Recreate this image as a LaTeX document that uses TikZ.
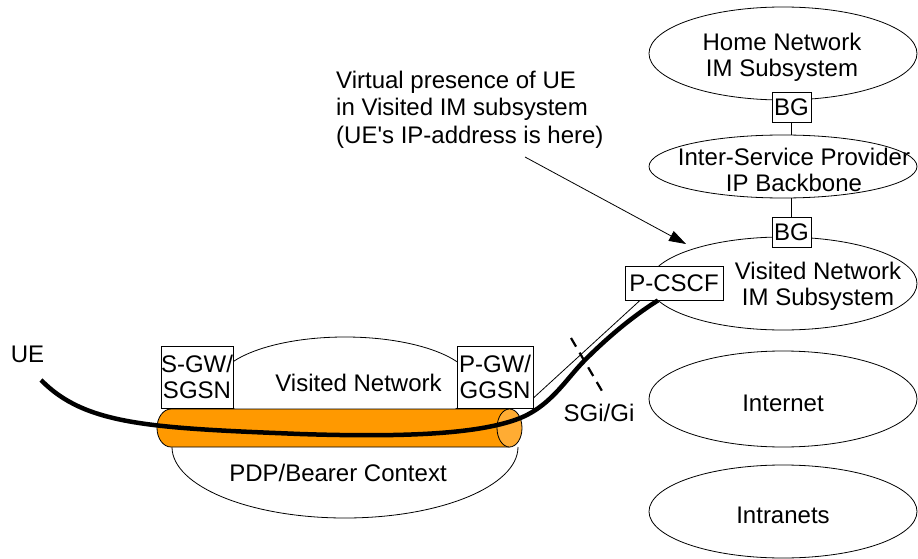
\documentclass[tikz,border=0pt]{standalone}
\usepackage{fontspec}
\setmainfont{Liberation Sans}
\usetikzlibrary{shapes.geometric,arrows.meta}

\definecolor{tubeorange}{RGB}{255,153,0}
\definecolor{tubeface}{RGB}{255,172,51}

\begin{document}
\begin{tikzpicture}[x=1pt, y=-1pt, font=\fontsize{24}{26}\selectfont,
					netoval/.style = {draw, ellipse, line width=0.8pt, inner sep=0pt, minimum width=268pt, minimum height=#1},
					gwbox/.style = {draw, fill=white, line width=0.8pt, inner sep=0pt, align=center},
					txt/.style = {inner sep=0pt, align=center},
					thinline/.style = {line width=0.8pt},
					uepath/.style = {line width=4.5pt}]
	\useasboundingbox (0,0) rectangle (918,559);

	% networks on the right
	\node[netoval=93pt] (home) at (783,53.5) {};
	\node[netoval=63pt] (isp) at (783,166.5) {};
	\node[netoval=93pt] (visim) at (783,283.5) {};
	\node[netoval=96pt] (inet) at (783,399) {};
	\node[netoval=93pt] (intra) at (783,511.5) {};
	\node[txt] at (782,57) {Home Network\\IM Subsystem};
	\node[txt] at (794,170) {Inter-Service Provider\\IP Backbone};
	\node[txt] at (818,286) {Visited Network\\IM Subsystem};
	\node[txt] at (783,403) {Internet};
	\node[txt] at (783,515) {Intranets};

	% visited network and bearer context
	\node[netoval=96pt, minimum width=256pt, fill=white] (visnet) at (345,385) {};
	\draw[thinline] (172,447) .. controls (172,486) and (249.5,518) .. (345,518)
		.. controls (440.5,518) and (518,486) .. (518,447);
	\node[txt] at (358.5,383) {Visited Network};
	\node[txt] at (338,473) {PDP/Bearer Context};

	\node[gwbox, minimum width=72pt, minimum height=62pt] (sgw) at (197,377) {S-GW/\\SGSN};
	\node[gwbox, minimum width=76pt, minimum height=62pt] (pgw) at (495,377) {P-GW/\\GGSN};

	% bearer tube
	\draw[thinline, fill=tubeorange] (509.5,409) -- (171,409) .. controls (163.3,409) and (157,417.5) .. (157,428)
		.. controls (157,438.5) and (163.3,447) .. (171,447) -- (509.5,447);
	\draw[thinline, fill=tubeface] (509.5,428) ellipse [x radius=12.5, y radius=19];

	\node[gwbox, minimum width=98pt, minimum height=34pt] (pcscf) at (674,283) {P-CSCF};

	\node[txt] (ue) at (27.5,354) {UE};
	\coordinate (uestart) at (41,380);
	\draw[thinline] ([yshift=-21pt]pgw.east) -- ([xshift=-34pt]pcscf.south);
	\draw[uepath] (uestart) .. controls (85,425) and (150,428) .. (300,434)
		.. controls (420,438) and (480,432) .. (515,420)
		.. controls (550,408) and (565,380) .. (585,360)
		.. controls (605,340) and (630,318) .. ([xshift=-16pt]pcscf.south);

	% SGi/Gi reference point
	\coordinate (sgitop) at (571,338);
	\coordinate (sgibot) at (602,391);
	\draw[line width=2.2pt, dash pattern=on 10pt off 7pt] (sgitop) -- (sgibot);
	\node[txt] (sgi) at (599,413) {SGi/Gi};

	% border gateways
	\node[gwbox, minimum width=39pt, minimum height=30pt] (bgtop) at (791.5,107) {BG};
	\node[gwbox, minimum width=39pt, minimum height=30pt] (bgvis) at (791.5,232) {BG};
	\draw[thinline] (bgtop.south) -- (bgtop.south |- isp.north);
	\draw[thinline] (bgvis.north) -- (bgvis.north |- isp.south);

	% note
	\node[txt, anchor=west, align=left, font=\fontsize{24}{27.5}\selectfont] (note) at (336,109.5)
		{Virtual presence of UE\\in Visited IM subsystem\\(UE\textquotesingle s IP-address is here)};
	\coordinate (notetail) at (525,157);
	\coordinate (notehead) at (686,244);
	\draw[thinline, -{Triangle[length=17pt, width=11pt]}] (notetail) -- (notehead);
\end{tikzpicture}
\end{document}
